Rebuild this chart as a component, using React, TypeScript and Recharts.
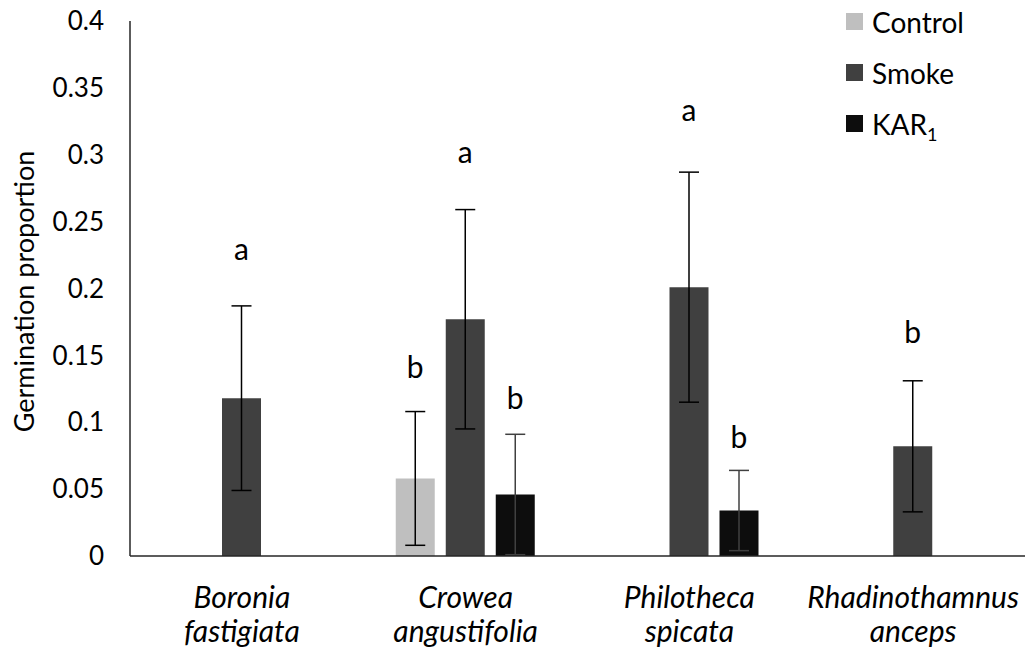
import React from 'react';
import {
  BarChart,
  Bar,
  XAxis,
  YAxis,
  ErrorBar,
  LabelList,
  Legend,
  Label,
} from 'recharts';

// species on the x axis, split over two lines
const genus = ['Boronia', 'Crowea', 'Philotheca', 'Rhadinothamnus'];
const species = ['fastigiata', 'angustifolia', 'spicata', 'anceps'];

// mean germination proportion and error per treatment
const control = [null, 0.058, null, null];
const controlErr = [null, 0.05, null, null];
const smoke = [0.118, 0.177, 0.201, 0.082];
const smokeErr = [0.069, 0.082, 0.086, 0.049];
const kar1 = [null, 0.046, 0.034, null];
const kar1Err = [null, 0.045, 0.03, null];

// significance letters and the height (in proportion units) of their baseline
const controlLetter = [null, 'b', null, null];
const controlLetterAt = [null, 0.133, null, null];
const smokeLetter = ['a', 'a', 'a', 'b'];
const smokeLetterAt = [0.221, 0.294, 0.325, 0.159];
const kar1Letter = [null, 'b', 'b', null];
const kar1LetterAt = [null, 0.11, 0.081, null];

const yTicks = [0, 0.05, 0.1, 0.15, 0.2, 0.25, 0.3, 0.35, 0.4];

const series = [
  { key: 'control', name: 'Control', color: '#bfbfbf', errColor: '#000' },
  { key: 'smoke', name: 'Smoke', color: '#404040', errColor: '#000' },
  { key: 'kar1', name: 'KAR1', color: '#0d0d0d', errColor: '#404040' },
] as const;

const FONT = 'Lato, "Open Sans", sans-serif';

const data = genus.map((g, i) => ({
  genus: g,
  species: species[i],
  control: control[i],
  controlErr: controlErr[i],
  controlLetter: controlLetter[i],
  controlLetterAt: controlLetterAt[i],
  smoke: smoke[i],
  smokeErr: smokeErr[i],
  smokeLetter: smokeLetter[i],
  smokeLetterAt: smokeLetterAt[i],
  kar1: kar1[i],
  kar1Err: kar1Err[i],
  kar1Letter: kar1Letter[i],
  kar1LetterAt: kar1LetterAt[i],
}));

// places a letter above a bar, using the bar's own pixels-per-unit
const letterRenderer = (key: string) => (props: any) => {
  const row: any = props.value;
  if (!row || row[key] == null || !row[`${key}Letter`]) return null;
  const vb = props.viewBox ?? props;
  const { x, y, width, height } = vb;
  const perUnit = height / row[key];
  const base = y + height;
  const ty = base - row[`${key}LetterAt`] * perUnit;
  return (
    <text
      key={`${key}-${row.genus}`}
      x={x + width / 2}
      y={ty}
      textAnchor="middle"
      fontFamily={FONT}
      fontSize={30}
      fill="#000"
    >
      {row[`${key}Letter`]}
    </text>
  );
};

const SpeciesTick = (props: any) => {
  const { x, y, payload, index } = props;
  return (
    <g>
      <text x={x} y={y + 52} textAnchor="middle" fontFamily={FONT} fontStyle="italic" fontSize={30} fill="#000">
        {payload.value}
      </text>
      <text x={x} y={y + 86} textAnchor="middle" fontFamily={FONT} fontStyle="italic" fontSize={30} fill="#000">
        {species[index]}
      </text>
    </g>
  );
};

const YTitle = (props: any) => {
  const { x, y, height } = props.viewBox;
  const cx = x + 23;
  const cy = y + height / 2 + 3;
  return (
    <text
      x={cx}
      y={cy}
      transform={`rotate(-90 ${cx} ${cy})`}
      textAnchor="middle"
      dominantBaseline="central"
      fontFamily={FONT}
      fontSize={27}
      fill="#000"
    >
      Germination proportion
    </text>
  );
};

const LegendBox = () => (
  <div style={{ fontFamily: FONT, fontSize: 28, color: '#000' }}>
    {series.map((s) => (
      <div key={s.key} style={{ height: 51, display: 'flex', alignItems: 'center' }}>
        <span style={{ width: 17, height: 17, background: s.color, marginRight: 9, display: 'inline-block' }} />
        {s.name === 'KAR1' ? (
          <span>
            KAR<span style={{ fontSize: 18, position: 'relative', top: 6 }}>1</span>
          </span>
        ) : (
          <span>{s.name}</span>
        )}
      </div>
    ))}
  </div>
);

export default function App() {
  return (
    <div style={{ position: 'absolute', left: 0, top: 0, background: '#fff' }}>
      <BarChart
        width={1025}
        height={649}
        data={data}
        margin={{ top: 21, right: 0, bottom: 0, left: 0 }}
        barSize={39}
        barGap={11}
      >
        <XAxis
          dataKey="genus"
          height={93}
          axisLine={{ stroke: '#262626', strokeWidth: 1.5 }}
          tickLine={false}
          tickSize={0}
          tickMargin={0}
          tick={<SpeciesTick />}
          interval={0}
        />
        <YAxis
          width={130}
          domain={[0, 0.4]}
          ticks={yTicks}
          axisLine={{ stroke: '#262626', strokeWidth: 1.5 }}
          tickLine={false}
          tickSize={0}
          tickMargin={26}
          tick={{ fontFamily: FONT, fontSize: 26, fill: '#000' }}
          tickFormatter={(v: number) => String(v)}
        >
          <Label content={<YTitle />} />
        </YAxis>
        <Legend
          layout="vertical"
          align="center"
          verticalAlign="middle"
          content={<LegendBox />}
          wrapperStyle={{ left: 846, top: -4, width: 180 }}
        />
        {series.map((s) => (
          <Bar key={s.key} dataKey={s.key} name={s.name} fill={s.color} isAnimationActive={false}>
            <ErrorBar
              dataKey={`${s.key}Err`}
              width={10}
              stroke={s.errColor}
              strokeWidth={1.5}
              isAnimationActive={false}
            />
            <LabelList dataKey={(d: any) => d} content={letterRenderer(s.key)} />
          </Bar>
        ))}
      </BarChart>
    </div>
  );
}
